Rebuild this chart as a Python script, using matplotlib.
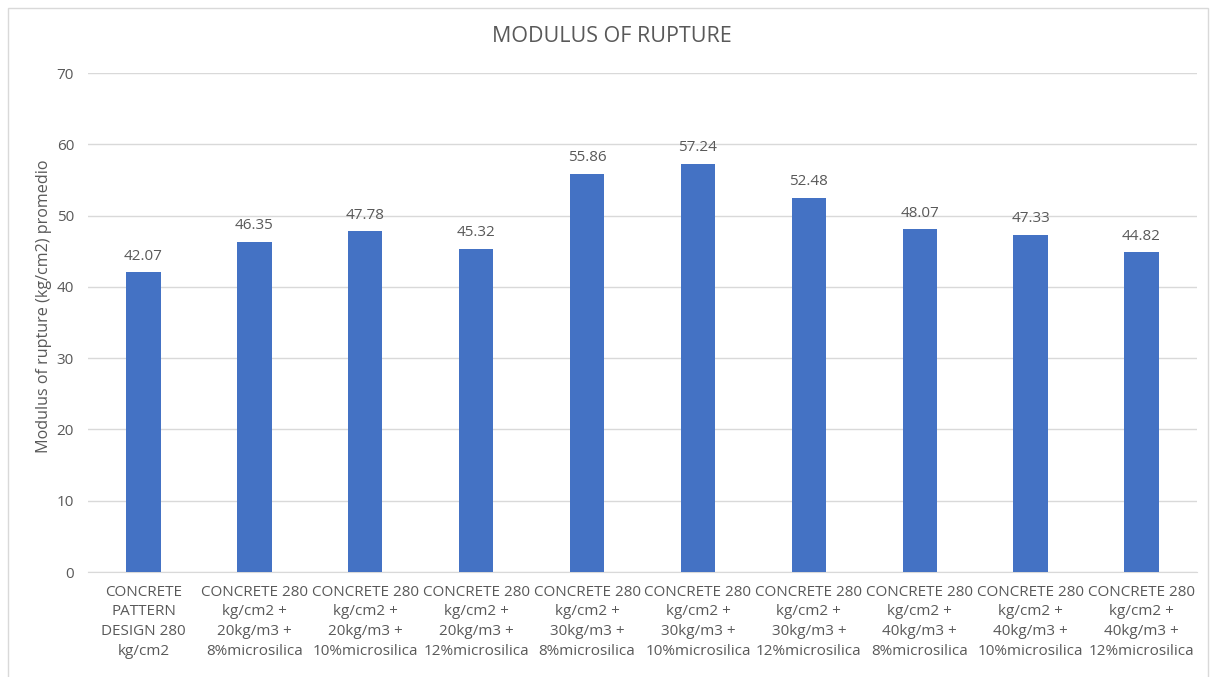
import matplotlib
matplotlib.use('Agg')
from matplotlib import pyplot as plt
from matplotlib.patches import Rectangle

categories = [
    'CONCRETE\nPATTERN\nDESIGN 280\nkg/cm2',
    'CONCRETE 280\nkg/cm2 +\n20kg/m3 +\n8%microsilica',
    'CONCRETE 280\nkg/cm2 +\n20kg/m3 +\n10%microsilica',
    'CONCRETE 280\nkg/cm2 +\n20kg/m3 +\n12%microsilica',
    'CONCRETE 280\nkg/cm2 +\n30kg/m3 +\n8%microsilica',
    'CONCRETE 280\nkg/cm2 +\n30kg/m3 +\n10%microsilica',
    'CONCRETE 280\nkg/cm2 +\n30kg/m3 +\n12%microsilica',
    'CONCRETE 280\nkg/cm2 +\n40kg/m3 +\n8%microsilica',
    'CONCRETE 280\nkg/cm2 +\n40kg/m3 +\n10%microsilica',
    'CONCRETE 280\nkg/cm2 +\n40kg/m3 +\n12%microsilica',
]
values = [42.07, 46.35, 47.78, 45.32, 55.86, 57.24, 52.48, 48.07, 47.33, 44.82]
yticks = [0, 10, 20, 30, 40, 50, 60, 70]

plt.rcParams['font.family'] = ['Open Sans', 'DejaVu Sans']
gray = '#595959'

fig = plt.figure(figsize=(12.16, 6.77), dpi=100)
ax = fig.add_axes([88/1216, 1-572/677, (1197-88)/1216, (572-73)/677])
fig.patches.append(Rectangle((8/1216, -0.05), 1200/1216, 1.05-8/677,
                             transform=fig.transFigure, fill=False,
                             edgecolor='#d9d9d9', linewidth=1))

x = list(range(len(values)))
bars = ax.bar(x, values, width=0.31, color='#4472c4', zorder=3)
ax.set_xlim(-0.5, len(values)-0.5)
ax.set_ylim(0, 70)
ax.set_yticks(yticks)
ax.set_xticks(x)
ax.set_xticklabels(categories, fontsize=11, color=gray, linespacing=1.45)
ax.tick_params(axis='y', labelsize=11, colors=gray, length=0, pad=10)
ax.tick_params(axis='x', length=0, pad=9)
ax.grid(axis='y', color='#d9d9d9', linewidth=1, zorder=0)
for s in ['top', 'right', 'left']:
    ax.spines[s].set_visible(False)
ax.spines['bottom'].set_color('#d9d9d9')

for bar in bars:
    h = bar.get_height()
    ax.text(bar.get_x()+bar.get_width()/2, h+1.2, f'{h:.2f}',
            ha='center', va='bottom', fontsize=11, color=gray)

ax.set_ylabel('Modulus of rupture (kg/cm2) promedio', fontsize=11.6, color=gray)
ax.yaxis.set_label_coords(-0.0325, 0.533)
fig.text(612/1216, 1-37/677, 'MODULUS OF RUPTURE', ha='center', va='center',
         fontsize=15.5, color=gray)

fig.savefig('out.png', dpi=100)
